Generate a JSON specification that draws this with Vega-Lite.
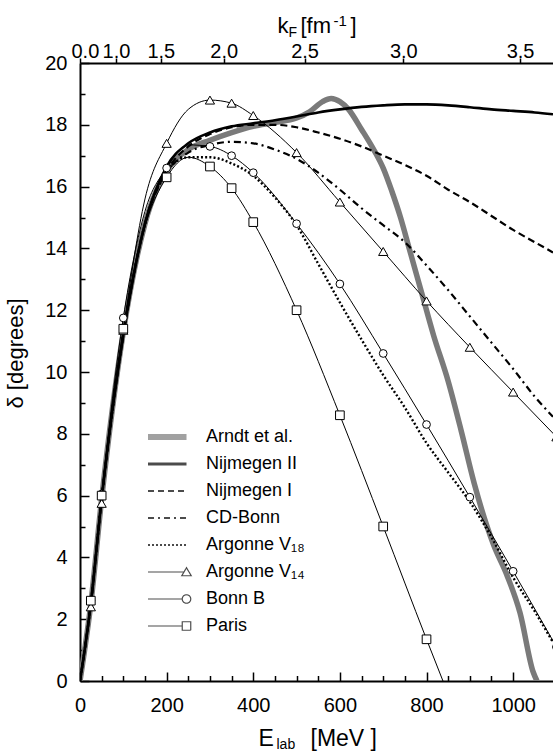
{
"$schema":"https://vega.github.io/schema/vega-lite/v6.json",
"width":473,"height":618,
"autosize":{"type":"none"},
"padding":{"left":80,"top":63,"right":0,"bottom":70},
"background":"white",
"config":{"view":{"stroke":null},"font":"Liberation Sans","axis":{"grid":false,"domainColor":"black","tickColor":"black","labelColor":"black","titleColor":"black","labelFont":"Liberation Sans","titleFont":"Liberation Sans","titleFontWeight":"normal","labelFlush":false,"labelOverlap":false}},
"datasets":{
"curves":[
{"s":"Arndt et al.","E":0,"d":0},{"s":"Arndt et al.","E":25,"d":2.5},{"s":"Arndt et al.","E":50,"d":5.9},{"s":"Arndt et al.","E":100,"d":11.3},{"s":"Arndt et al.","E":150,"d":14.8},{"s":"Arndt et al.","E":200,"d":16.5},{"s":"Arndt et al.","E":250,"d":17.2},{"s":"Arndt et al.","E":300,"d":17.5},{"s":"Arndt et al.","E":350,"d":17.75},{"s":"Arndt et al.","E":400,"d":17.95},{"s":"Arndt et al.","E":450,"d":18.07},{"s":"Arndt et al.","E":500,"d":18.22},{"s":"Arndt et al.","E":530,"d":18.42},{"s":"Arndt et al.","E":560,"d":18.75},{"s":"Arndt et al.","E":580,"d":18.85},{"s":"Arndt et al.","E":600,"d":18.75},{"s":"Arndt et al.","E":620,"d":18.5},{"s":"Arndt et al.","E":650,"d":17.85},{"s":"Arndt et al.","E":680,"d":17.15},{"s":"Arndt et al.","E":700,"d":16.6},{"s":"Arndt et al.","E":720,"d":15.85},{"s":"Arndt et al.","E":740,"d":15.0},{"s":"Arndt et al.","E":760,"d":14.0},{"s":"Arndt et al.","E":790,"d":12.5},{"s":"Arndt et al.","E":816,"d":11.2},{"s":"Arndt et al.","E":850,"d":9.7},{"s":"Arndt et al.","E":880,"d":8.1},{"s":"Arndt et al.","E":910,"d":6.4},{"s":"Arndt et al.","E":955,"d":4.4},{"s":"Arndt et al.","E":985,"d":3.45},{"s":"Arndt et al.","E":1016,"d":2.2},{"s":"Arndt et al.","E":1046,"d":0.3},{"s":"Arndt et al.","E":1055,"d":0},
{"s":"Nijmegen II","E":0,"d":0},{"s":"Nijmegen II","E":25,"d":2.5},{"s":"Nijmegen II","E":50,"d":5.9},{"s":"Nijmegen II","E":100,"d":11.2},{"s":"Nijmegen II","E":150,"d":14.8},{"s":"Nijmegen II","E":200,"d":16.65},{"s":"Nijmegen II","E":250,"d":17.4},{"s":"Nijmegen II","E":300,"d":17.75},{"s":"Nijmegen II","E":350,"d":17.95},{"s":"Nijmegen II","E":400,"d":18.05},{"s":"Nijmegen II","E":450,"d":18.15},{"s":"Nijmegen II","E":500,"d":18.27},{"s":"Nijmegen II","E":550,"d":18.4},{"s":"Nijmegen II","E":600,"d":18.5},{"s":"Nijmegen II","E":650,"d":18.58},{"s":"Nijmegen II","E":700,"d":18.63},{"s":"Nijmegen II","E":750,"d":18.66},{"s":"Nijmegen II","E":800,"d":18.66},{"s":"Nijmegen II","E":850,"d":18.63},{"s":"Nijmegen II","E":900,"d":18.57},{"s":"Nijmegen II","E":950,"d":18.5},{"s":"Nijmegen II","E":1000,"d":18.45},{"s":"Nijmegen II","E":1050,"d":18.4},{"s":"Nijmegen II","E":1092,"d":18.34},
{"s":"Nijmegen I","E":0,"d":0},{"s":"Nijmegen I","E":25,"d":2.5},{"s":"Nijmegen I","E":50,"d":5.9},{"s":"Nijmegen I","E":100,"d":11.2},{"s":"Nijmegen I","E":150,"d":14.8},{"s":"Nijmegen I","E":200,"d":16.5},{"s":"Nijmegen I","E":250,"d":17.3},{"s":"Nijmegen I","E":300,"d":17.7},{"s":"Nijmegen I","E":350,"d":17.92},{"s":"Nijmegen I","E":400,"d":18.0},{"s":"Nijmegen I","E":450,"d":18.0},{"s":"Nijmegen I","E":500,"d":17.92},{"s":"Nijmegen I","E":550,"d":17.75},{"s":"Nijmegen I","E":600,"d":17.55},{"s":"Nijmegen I","E":650,"d":17.3},{"s":"Nijmegen I","E":700,"d":17.0},{"s":"Nijmegen I","E":750,"d":16.7},{"s":"Nijmegen I","E":800,"d":16.35},{"s":"Nijmegen I","E":850,"d":15.9},{"s":"Nijmegen I","E":900,"d":15.5},{"s":"Nijmegen I","E":950,"d":15.05},{"s":"Nijmegen I","E":1000,"d":14.6},{"s":"Nijmegen I","E":1050,"d":14.2},{"s":"Nijmegen I","E":1092,"d":13.87},
{"s":"CD-Bonn","E":0,"d":0},{"s":"CD-Bonn","E":25,"d":2.5},{"s":"CD-Bonn","E":50,"d":5.9},{"s":"CD-Bonn","E":100,"d":11.2},{"s":"CD-Bonn","E":150,"d":14.8},{"s":"CD-Bonn","E":200,"d":16.45},{"s":"CD-Bonn","E":250,"d":17.1},{"s":"CD-Bonn","E":300,"d":17.35},{"s":"CD-Bonn","E":350,"d":17.45},{"s":"CD-Bonn","E":400,"d":17.4},{"s":"CD-Bonn","E":450,"d":17.2},{"s":"CD-Bonn","E":500,"d":16.9},{"s":"CD-Bonn","E":550,"d":16.45},{"s":"CD-Bonn","E":600,"d":15.9},{"s":"CD-Bonn","E":650,"d":15.3},{"s":"CD-Bonn","E":700,"d":14.75},{"s":"CD-Bonn","E":750,"d":14.2},{"s":"CD-Bonn","E":800,"d":13.45},{"s":"CD-Bonn","E":850,"d":12.65},{"s":"CD-Bonn","E":900,"d":11.8},{"s":"CD-Bonn","E":950,"d":10.95},{"s":"CD-Bonn","E":1000,"d":10.1},{"s":"CD-Bonn","E":1050,"d":9.2},{"s":"CD-Bonn","E":1092,"d":8.55},
{"s":"Argonne V₁₈","E":0,"d":0},{"s":"Argonne V₁₈","E":25,"d":2.5},{"s":"Argonne V₁₈","E":50,"d":5.9},{"s":"Argonne V₁₈","E":100,"d":11.2},{"s":"Argonne V₁₈","E":150,"d":14.8},{"s":"Argonne V₁₈","E":200,"d":16.5},{"s":"Argonne V₁₈","E":250,"d":16.95},{"s":"Argonne V₁₈","E":300,"d":16.95},{"s":"Argonne V₁₈","E":350,"d":16.75},{"s":"Argonne V₁₈","E":400,"d":16.35},{"s":"Argonne V₁₈","E":450,"d":15.65},{"s":"Argonne V₁₈","E":500,"d":14.75},{"s":"Argonne V₁₈","E":550,"d":13.5},{"s":"Argonne V₁₈","E":600,"d":12.25},{"s":"Argonne V₁₈","E":650,"d":11.05},{"s":"Argonne V₁₈","E":700,"d":9.9},{"s":"Argonne V₁₈","E":750,"d":8.85},{"s":"Argonne V₁₈","E":800,"d":7.7},{"s":"Argonne V₁₈","E":850,"d":6.75},{"s":"Argonne V₁₈","E":900,"d":5.8},{"s":"Argonne V₁₈","E":950,"d":4.65},{"s":"Argonne V₁₈","E":1000,"d":3.35},{"s":"Argonne V₁₈","E":1050,"d":2.25},{"s":"Argonne V₁₈","E":1092,"d":1.25},
{"s":"Argonne V₁₄","E":0,"d":0},{"s":"Argonne V₁₄","E":25,"d":2.4},{"s":"Argonne V₁₄","E":50,"d":5.75},{"s":"Argonne V₁₄","E":100,"d":11.35},{"s":"Argonne V₁₄","E":150,"d":15.6},{"s":"Argonne V₁₄","E":200,"d":17.4},{"s":"Argonne V₁₄","E":250,"d":18.5},{"s":"Argonne V₁₄","E":300,"d":18.8},{"s":"Argonne V₁₄","E":350,"d":18.7},{"s":"Argonne V₁₄","E":400,"d":18.3},{"s":"Argonne V₁₄","E":500,"d":17.1},{"s":"Argonne V₁₄","E":600,"d":15.5},{"s":"Argonne V₁₄","E":700,"d":13.9},{"s":"Argonne V₁₄","E":800,"d":12.3},{"s":"Argonne V₁₄","E":900,"d":10.8},{"s":"Argonne V₁₄","E":1000,"d":9.35},{"s":"Argonne V₁₄","E":1100,"d":7.9},
{"s":"Bonn B","E":0,"d":0},{"s":"Bonn B","E":25,"d":2.6},{"s":"Bonn B","E":50,"d":6.05},{"s":"Bonn B","E":100,"d":11.75},{"s":"Bonn B","E":150,"d":15.2},{"s":"Bonn B","E":200,"d":16.6},{"s":"Bonn B","E":250,"d":17.35},{"s":"Bonn B","E":300,"d":17.3},{"s":"Bonn B","E":350,"d":17.0},{"s":"Bonn B","E":400,"d":16.45},{"s":"Bonn B","E":500,"d":14.8},{"s":"Bonn B","E":600,"d":12.85},{"s":"Bonn B","E":700,"d":10.6},{"s":"Bonn B","E":800,"d":8.3},{"s":"Bonn B","E":900,"d":5.95},{"s":"Bonn B","E":1000,"d":3.55},{"s":"Bonn B","E":1100,"d":1.1},
{"s":"Paris","E":0,"d":0},{"s":"Paris","E":25,"d":2.6},{"s":"Paris","E":50,"d":6.0},{"s":"Paris","E":100,"d":11.4},{"s":"Paris","E":150,"d":14.7},{"s":"Paris","E":200,"d":16.3},{"s":"Paris","E":250,"d":16.95},{"s":"Paris","E":300,"d":16.65},{"s":"Paris","E":350,"d":15.95},{"s":"Paris","E":400,"d":14.85},{"s":"Paris","E":500,"d":12.0},{"s":"Paris","E":600,"d":8.6},{"s":"Paris","E":700,"d":5.0},{"s":"Paris","E":800,"d":1.35},{"s":"Paris","E":838,"d":0}
],
"markers":[
{"s":"Argonne V₁₄","E":25,"d":2.4},{"s":"Argonne V₁₄","E":50,"d":5.75},{"s":"Argonne V₁₄","E":100,"d":11.35},{"s":"Argonne V₁₄","E":200,"d":17.4},{"s":"Argonne V₁₄","E":300,"d":18.8},{"s":"Argonne V₁₄","E":350,"d":18.7},{"s":"Argonne V₁₄","E":400,"d":18.3},{"s":"Argonne V₁₄","E":500,"d":17.1},{"s":"Argonne V₁₄","E":600,"d":15.5},{"s":"Argonne V₁₄","E":700,"d":13.9},{"s":"Argonne V₁₄","E":800,"d":12.3},{"s":"Argonne V₁₄","E":900,"d":10.8},{"s":"Argonne V₁₄","E":1000,"d":9.35},{"s":"Argonne V₁₄","E":1100,"d":7.9},
{"s":"Bonn B","E":25,"d":2.6},{"s":"Bonn B","E":50,"d":6.05},{"s":"Bonn B","E":100,"d":11.75},{"s":"Bonn B","E":200,"d":16.6},{"s":"Bonn B","E":300,"d":17.3},{"s":"Bonn B","E":350,"d":17.0},{"s":"Bonn B","E":400,"d":16.45},{"s":"Bonn B","E":500,"d":14.8},{"s":"Bonn B","E":600,"d":12.85},{"s":"Bonn B","E":700,"d":10.6},{"s":"Bonn B","E":800,"d":8.3},{"s":"Bonn B","E":900,"d":5.95},{"s":"Bonn B","E":1000,"d":3.55},{"s":"Bonn B","E":1100,"d":1.1},
{"s":"Paris","E":25,"d":2.6},{"s":"Paris","E":50,"d":6.0},{"s":"Paris","E":100,"d":11.4},{"s":"Paris","E":200,"d":16.3},{"s":"Paris","E":300,"d":16.65},{"s":"Paris","E":350,"d":15.95},{"s":"Paris","E":400,"d":14.85},{"s":"Paris","E":500,"d":12.0},{"s":"Paris","E":600,"d":8.6},{"s":"Paris","E":700,"d":5.0},{"s":"Paris","E":800,"d":1.35}
]
},
"resolve":{"axis":{"x":"independent","y":"independent"}},
"layer":[
{"data":{"name":"curves"},"transform":[{"filter":"datum.s==='Arndt et al.'"}],
 "mark":{"type":"line","stroke":"#7a7a7a","strokeWidth":5.5,"interpolate":"monotone","clip":true},
 "encoding":{
  "x":{"field":"E","type":"quantitative","scale":{"domain":[0,1092],"nice":false,"zero":false},
   "axis":{"orient":"bottom","values":[0,200,400,600,800,1000],"format":"d","ticks":false,"tickSize":0,"domainWidth":2,"labelFontSize":20,"labelPadding":14.5,"title":"E","titleFontSize":23,"titleX":178,"titleY":64,"titleBaseline":"alphabetic","titleAlign":"left"}},
  "y":{"field":"d","type":"quantitative","scale":{"domain":[0,20],"nice":false,"zero":false},
   "axis":{"orient":"left","values":[0,2,4,6,8,10,12,14,16,18,20],"ticks":false,"tickSize":0,"domainWidth":2,"labelFontSize":20,"labelPadding":13,"title":"δ [degrees]","titleFontSize":22,"titleAngle":-90,"titleX":-58,"titleY":290,"titleBaseline":"alphabetic","titleAlign":"center"}}
 }},
{"data":{"name":"curves"},"transform":[{"filter":"datum.s==='Nijmegen II'"}],
 "mark":{"type":"line","stroke":"black","strokeWidth":2.6,"interpolate":"monotone","clip":true},
 "encoding":{
  "x":{"field":"E","type":"quantitative","scale":{"domain":[0,1092],"nice":false,"zero":false},
   "axis":{"orient":"bottom","values":[0,200,400,600,800,1000],"tickSize":-9,"tickWidth":1.5,"labels":false,"domain":false,"title":null}},
  "y":{"field":"d","type":"quantitative","scale":{"domain":[0,20],"nice":false,"zero":false},
   "axis":{"orient":"left","values":[0,2,4,6,8,10,12,14,16,18,20],"tickSize":-9,"tickWidth":1.5,"labels":false,"domain":false,"title":null}}
 }},
{"data":{"name":"curves"},"transform":[{"filter":"datum.s==='Nijmegen I'"}],
 "mark":{"type":"line","stroke":"black","strokeWidth":2.2,"strokeDash":[7,4],"interpolate":"monotone","clip":true},
 "encoding":{
  "x":{"field":"E","type":"quantitative","scale":{"domain":[0,1092],"nice":false,"zero":false},
   "axis":{"orient":"bottom","values":[50,100,150,250,300,350,450,500,550,650,700,750,850,900,950,1050],"tickSize":-5.5,"tickWidth":1.5,"labels":false,"domain":false,"title":"lab","titleFontSize":14,"titleX":196,"titleY":67,"titleBaseline":"alphabetic","titleAlign":"left"}},
  "y":{"field":"d","type":"quantitative","scale":{"domain":[0,20],"nice":false,"zero":false},
   "axis":{"orient":"left","values":[1,3,5,7,9,11,13,15,17,19],"tickSize":-5,"tickWidth":1.5,"labels":false,"domain":false,"title":null}}
 }},
{"data":{"name":"curves"},"transform":[{"filter":"datum.s==='CD-Bonn'"}],
 "mark":{"type":"line","stroke":"black","strokeWidth":2.2,"strokeDash":[7,4,2,4],"interpolate":"monotone","clip":true},
 "encoding":{
  "x":{"field":"E","type":"quantitative","scale":{"domain":[0,1092],"nice":false,"zero":false},
   "axis":{"orient":"top","values":[0,82.94,186.615,331.76,518.375,746.46,1016.015],"labelExpr":"format(sqrt(datum.value/82.94),'.1f')","tickSize":5,"tickWidth":1.5,"domainWidth":2,"labelFontSize":20,"labelPadding":1,"labelBaseline":"alphabetic","labelFlush":false,"labelAlign":{"condition":{"test":"datum.value === 0","value":"left"},"value":"center"},"labelOffset":{"condition":{"test":"datum.value === 0","value":-9},"value":0},"labelOverlap":false,"title":"k","titleFontSize":22,"titleX":197,"titleY":-31,"titleAlign":"left","titleBaseline":"alphabetic"}},
  "y":{"field":"d","type":"quantitative","scale":{"domain":[0,20],"nice":false,"zero":false},"axis":null}
 }},
{"data":{"name":"curves"},"transform":[{"filter":"datum.s==='Argonne V₁₈'"}],
 "mark":{"type":"line","stroke":"black","strokeWidth":2.4,"strokeDash":[2,2.2],"interpolate":"monotone","clip":true},
 "encoding":{
  "x":{"field":"E","type":"quantitative","scale":{"domain":[0,1092],"nice":false,"zero":false},
   "axis":{"orient":"top","values":[],"ticks":false,"labels":false,"domain":false,"title":"F","titleFontSize":14,"titleX":208,"titleY":-27,"titleAlign":"left","titleBaseline":"alphabetic"}},
  "y":{"field":"d","type":"quantitative","scale":{"domain":[0,20],"nice":false,"zero":false},"axis":null}
 }},
{"data":{"name":"curves"},"transform":[{"filter":"datum.s==='Argonne V₁₄'"}],
 "mark":{"type":"line","stroke":"black","strokeWidth":1,"interpolate":"monotone","clip":true},
 "encoding":{
  "x":{"field":"E","type":"quantitative","scale":{"domain":[0,1092],"nice":false,"zero":false},
   "axis":{"orient":"top","values":[],"ticks":false,"labels":false,"domain":false,"title":"[fm","titleFontSize":22,"titleX":220,"titleY":-31,"titleAlign":"left","titleBaseline":"alphabetic"}},
  "y":{"field":"d","type":"quantitative","scale":{"domain":[0,20],"nice":false,"zero":false},"axis":null}
 }},
{"data":{"name":"curves"},"transform":[{"filter":"datum.s==='Bonn B'"}],
 "mark":{"type":"line","stroke":"black","strokeWidth":1,"interpolate":"monotone","clip":true},
 "encoding":{
  "x":{"field":"E","type":"quantitative","scale":{"domain":[0,1092],"nice":false,"zero":false},
   "axis":{"orient":"top","values":[],"ticks":false,"labels":false,"domain":false,"title":"-1","titleFontSize":15,"titleX":253,"titleY":-38,"titleAlign":"left","titleBaseline":"alphabetic"}},
  "y":{"field":"d","type":"quantitative","scale":{"domain":[0,20],"nice":false,"zero":false},"axis":null}
 }},
{"data":{"name":"curves"},"transform":[{"filter":"datum.s==='Paris'"}],
 "mark":{"type":"line","stroke":"black","strokeWidth":1,"interpolate":"monotone","clip":true},
 "encoding":{
  "x":{"field":"E","type":"quantitative","scale":{"domain":[0,1092],"nice":false,"zero":false},
   "axis":{"orient":"top","values":[],"ticks":false,"labels":false,"domain":false,"title":"]","titleFontSize":22,"titleX":270,"titleY":-31,"titleAlign":"left","titleBaseline":"alphabetic"}},
  "y":{"field":"d","type":"quantitative","scale":{"domain":[0,20],"nice":false,"zero":false},"axis":null}
 }},
{"data":{"name":"markers"},"transform":[{"filter":"datum.s==='Argonne V₁₄'"}],
 "mark":{"type":"point","shape":"triangle-up","filled":true,"fill":"white","fillOpacity":1,"stroke":"black","strokeWidth":1,"strokeOpacity":1,"opacity":1,"size":85,"clip":true},
 "encoding":{
  "x":{"field":"E","type":"quantitative","scale":{"domain":[0,1092],"nice":false,"zero":false},
   "axis":{"orient":"bottom","values":[],"ticks":false,"labels":false,"domain":false,"title":"[MeV ]","titleFontSize":23,"titleX":230,"titleY":64,"titleAlign":"left","titleBaseline":"alphabetic"}},
  "y":{"field":"d","type":"quantitative","scale":{"domain":[0,20],"nice":false,"zero":false},"axis":null}
 }},
{"data":{"name":"markers"},"transform":[{"filter":"datum.s==='Bonn B'"}],
 "mark":{"type":"point","shape":"circle","filled":true,"fill":"white","fillOpacity":1,"stroke":"black","strokeWidth":1,"strokeOpacity":1,"opacity":1,"size":60,"clip":true},
 "encoding":{
  "x":{"field":"E","type":"quantitative","scale":{"domain":[0,1092],"nice":false,"zero":false},"axis":null},
  "y":{"field":"d","type":"quantitative","scale":{"domain":[0,20],"nice":false,"zero":false},"axis":null}
 }},
{"data":{"name":"markers"},"transform":[{"filter":"datum.s==='Paris'"}],
 "mark":{"type":"point","shape":"square","filled":true,"fill":"white","fillOpacity":1,"stroke":"black","strokeWidth":1,"strokeOpacity":1,"opacity":1,"size":75,"clip":true},
 "encoding":{
  "x":{"field":"E","type":"quantitative","scale":{"domain":[0,1092],"nice":false,"zero":false},"axis":null},
  "y":{"field":"d","type":"quantitative","scale":{"domain":[0,20],"nice":false,"zero":false},"axis":null}
 }},
{"data":{"name":"curves"},"transform":[{"filter":"datum.E < 0"}],
 "mark":{"type":"point","filled":false,"strokeWidth":1.2},
 "encoding":{
  "x":{"field":"E","type":"quantitative","scale":{"domain":[0,1092],"nice":false,"zero":false},"axis":null},
  "y":{"field":"d","type":"quantitative","scale":{"domain":[0,20],"nice":false,"zero":false},"axis":null},
  "shape":{"field":"s","type":"nominal",
   "scale":{"domain":["Arndt et al.","Nijmegen II","Nijmegen I","CD-Bonn","Argonne V₁₈","Argonne V₁₄","Bonn B","Paris"],
    "range":["M-7.7,-0.5H0M-7.7,-0.3H0M-7.7,-0.1H0M-7.7,0.1H0M-7.7,0.3H0M-7.7,0.5H0","M-7.7,-0.2H0M-7.7,0H0M-7.7,0.2H0","M-7.7,-0.1H0M-7.7,0.1H0","M-7.7,-0.1H0M-7.7,0.1H0","M-7.7,-0.1H0M-7.7,0.1H0","M-7.7,0H-0.5M0,-0.85L0.95,0.75L-0.95,0.75Z","M-7.7,0H-0.85M0.85,0A0.85 0.85 0 1 1 -0.85,0A0.85 0.85 0 1 1 0.85,0Z","M-7.7,0H-0.85M-0.85,-0.85H0.85V0.85H-0.85Z"]},
   "legend":{"title":null,"orient":"none","legendX":97.5,"legendY":365,"labelFontSize":18,"labelFont":"Liberation Sans","labelColor":"black","labelOffset":10.5,"rowPadding":9,"padding":0,"symbolSize":100,"symbolStrokeWidth":1.2}},
  "stroke":{"field":"s","type":"nominal",
   "scale":{"domain":["Arndt et al.","Nijmegen II","Nijmegen I","CD-Bonn","Argonne V₁₈","Argonne V₁₄","Bonn B","Paris"],
    "range":["#7a7a7a","black","black","black","black","black","black","black"]},
   "legend":{"title":null,"orient":"none","legendX":97.5,"legendY":365,"labelFontSize":18,"labelFont":"Liberation Sans","labelColor":"black","labelOffset":10.5,"rowPadding":9,"padding":0,"symbolSize":100,"symbolStrokeWidth":1.2}},
  "strokeDash":{"field":"s","type":"nominal",
   "scale":{"domain":["Arndt et al.","Nijmegen II","Nijmegen I","CD-Bonn","Argonne V₁₈","Argonne V₁₄","Bonn B","Paris"],
    "range":[[1,0],[1,0],[6,4],[6,4,2,4],[2,2],[1,0],[1,0],[1,0]]},
   "legend":{"title":null,"orient":"none","legendX":97.5,"legendY":365,"labelFontSize":18,"labelFont":"Liberation Sans","labelColor":"black","labelOffset":10.5,"rowPadding":9,"padding":0,"symbolSize":100,"symbolStrokeWidth":1.2}}
 }}
]
}
